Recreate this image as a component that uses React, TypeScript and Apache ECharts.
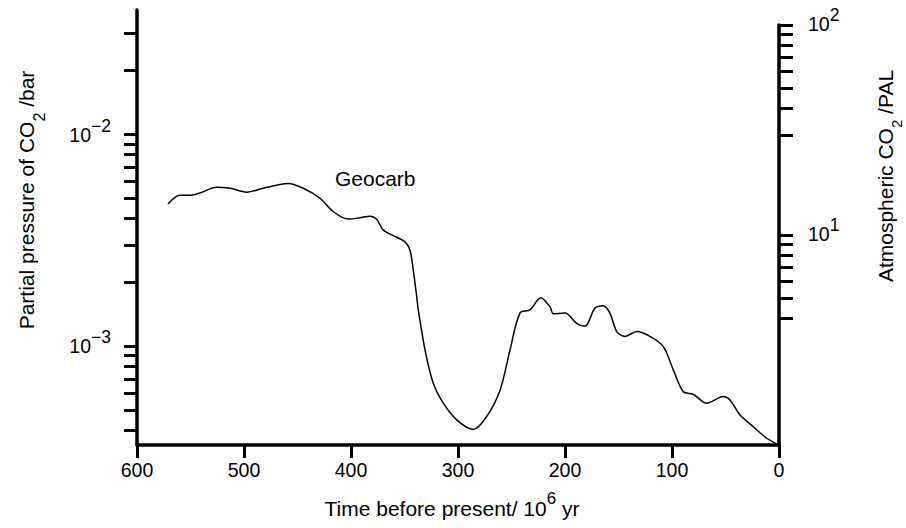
import React, { useEffect, useRef } from 'react';
import * as echarts from 'echarts';

// Time before present (10^6 yr)
const timeMa = [
  571, 560, 549, 541, 525.5, 513, 497.5, 482, 469.4, 458.6,
  444.6, 429, 416.5, 402.5, 391.6, 382.2, 376, 369.8, 357.3, 349.5,
  344.9, 341.8, 338.6, 337.1, 330.8, 323.1, 313.7, 301.2, 285.7, 273.2,
  260.7, 251.4, 242.1, 232.7, 222.7, 214, 210.9, 200, 189.1, 181.3,
  172, 164.2, 158, 151.7, 143.9, 133, 120.6, 108.1, 98.8, 89.4,
  80.1, 67.6, 52, 45.8, 36.4, 24, 11.5, 0,
];
// Partial pressure of CO2 (bar) - Geocarb
const pco2Bar = [
  4.68e-3, 5.15e-3, 5.15e-3, 5.28e-3, 5.61e-3, 5.55e-3, 5.32e-3, 5.55e-3, 5.74e-3, 5.85e-3,
  5.55e-3, 4.98e-3, 4.3e-3, 3.97e-3, 4.03e-3, 4.1e-3, 3.96e-3, 3.52e-3, 3.26e-3, 3.1e-3,
  2.84e-3, 2.28e-3, 1.71e-3, 1.48e-3, 9.57e-4, 6.67e-4, 5.37e-4, 4.48e-4, 4.04e-4, 4.65e-4,
  6.19e-4, 9.57e-4, 1.43e-3, 1.48e-3, 1.69e-3, 1.53e-3, 1.42e-3, 1.43e-3, 1.28e-3, 1.24e-3,
  1.51e-3, 1.55e-3, 1.43e-3, 1.17e-3, 1.11e-3, 1.17e-3, 1.11e-3, 9.93e-4, 7.71e-4, 6.08e-4,
  5.92e-4, 5.37e-4, 5.77e-4, 5.56e-4, 4.73e-4, 4.16e-4, 3.67e-4, 3.41e-4,
];

const xTicks = [0, 100, 200, 300, 400, 500, 600];
const leftTickValues = [
  4e-4, 5e-4, 6e-4, 7e-4, 8e-4, 9e-4,
  1e-3, 2e-3, 3e-3, 4e-3, 5e-3, 6e-3, 7e-3, 8e-3, 9e-3,
  1e-2, 2e-2, 3e-2,
];
const leftLabelValues = [1e-3, 1e-2];
const leftRange = [3.41e-4, 3.85e-2];
const rightTickValues = [4, 5, 6, 7, 8, 9, 10, 30, 40, 50, 60, 70, 80, 90, 100];
const rightLabelValues = [10, 100];
const rightRange = [1, 100];

const FONT = '"Liberation Sans", Arial, Helvetica, sans-serif';

const powLabel = (v: number) => {
  const e = Math.round(v);
  const s = e < 0 ? '\u2212' + Math.abs(e) : String(e);
  return `{b|10}{s|${s}}`;
};

const powRich = {
  b: { fontSize: 19.5, lineHeight: 28, verticalAlign: 'bottom', fontFamily: FONT, color: '#000' },
  s: { fontSize: 17.5, lineHeight: 17.5, verticalAlign: 'top', fontFamily: FONT, color: '#000' },
};

export default function App() {
  const ref = useRef<HTMLDivElement>(null);
  useEffect(() => {
    if (!ref.current) return;
    const chart = echarts.init(ref.current, undefined, { renderer: 'svg' });
    const lg = (v: number) => Math.log10(v);
    const axisLine = { show: true, onZero: false, lineStyle: { color: '#000', width: 3.5 } };
    const tickStyle = { color: '#000', width: 3 };
    const subRich = (L: number, subSize: number) => ({
      b: { fontSize: 21, lineHeight: L, verticalAlign: 'top', fontFamily: FONT, fill: '#000' },
      s: { fontSize: subSize, lineHeight: subSize, verticalAlign: 'bottom', fontFamily: FONT, fill: '#000' },
    });
    const option: any = {
      animation: false,
      backgroundColor: '#fff',
      grid: [
        { left: 137, right: 127, top: 10, bottom: 83, containLabel: false },
        { left: 137, right: 127, top: 25, bottom: 83, containLabel: false },
      ],
      xAxis: [
        {
          type: 'value', gridIndex: 0, min: 0, max: 600, interval: 100, inverse: true,
          axisLine,
          axisTick: { show: true, length: 13, lineStyle: tickStyle, customValues: xTicks },
          axisLabel: { show: true, margin: 15, fontSize: 19.5, fontFamily: FONT, color: '#000', customValues: xTicks },
          splitLine: { show: false },
        },
        {
          type: 'value', gridIndex: 1, min: 0, max: 600, inverse: true, show: false,
          splitLine: { show: false },
        },
      ],
      yAxis: [
        {
          type: 'value', gridIndex: 0, position: 'left',
          min: lg(leftRange[0]), max: lg(leftRange[1]),
          axisLine,
          axisTick: { show: true, length: 13, lineStyle: tickStyle, customValues: leftTickValues.map(lg) },
          axisLabel: {
            show: true, margin: 26, customValues: leftLabelValues.map(lg),
            formatter: powLabel, rich: powRich, padding: [0, 0, 7, 0],
          },
          splitLine: { show: false },
        },
        {
          type: 'value', gridIndex: 1, position: 'right',
          min: lg(rightRange[0]), max: lg(rightRange[1]),
          axisLine,
          axisTick: { show: true, length: 14, lineStyle: tickStyle, customValues: rightTickValues.map(lg) },
          axisLabel: {
            show: true, margin: 29, customValues: rightLabelValues.map(lg),
            formatter: powLabel, rich: powRich, padding: [0, 0, 10, 0],
          },
          splitLine: { show: false },
        },
      ],
      series: [
        {
          type: 'line', xAxisIndex: 0, yAxisIndex: 0,
          data: timeMa.map((t, i) => [t, lg(pco2Bar[i])]),
          showSymbol: false, smooth: 0.3,
          lineStyle: { color: '#000', width: 1.5 },
        },
      ],
      graphic: [
        {
          type: 'text', x: 335, y: 178,
          style: { text: 'Geocarb', fontSize: 21, fontFamily: FONT, fill: '#000', align: 'left', verticalAlign: 'middle' },
        },
        {
          type: 'text', x: 452, y: 504,
          style: {
            text: '{b|Time before present/ 10}{s|6}{b| yr}', fontSize: 21, fontFamily: FONT, fill: '#000',
            align: 'center', verticalAlign: 'middle',
            rich: {
              b: { fontSize: 21, lineHeight: 29, verticalAlign: 'bottom', fontFamily: FONT, fill: '#000' },
              s: { fontSize: 17, lineHeight: 17, verticalAlign: 'top', fontFamily: FONT, fill: '#000' },
            },
          },
        },
        {
          type: 'text', x: 31.5, y: 200, rotation: Math.PI / 2,
          style: {
            text: '{b|Partial pressure of CO}{s|2}{b| /bar}', fontSize: 21, fontFamily: FONT, fill: '#000',
            align: 'center', verticalAlign: 'middle',
            rich: subRich(31, 16),
          },
        },
        {
          type: 'text', x: 889, y: 176, rotation: Math.PI / 2,
          style: {
            text: '{b|Atmospheric CO}{s|2}{b| /PAL}', fontSize: 21, fontFamily: FONT, fill: '#000',
            align: 'center', verticalAlign: 'middle',
            rich: subRich(29, 15),
          },
        },
      ],
    };
    chart.setOption(option);
    return () => chart.dispose();
  }, []);
  return <div ref={ref} style={{ position: 'fixed', left: 0, top: 0, width: 906, height: 528 }} />;
}
